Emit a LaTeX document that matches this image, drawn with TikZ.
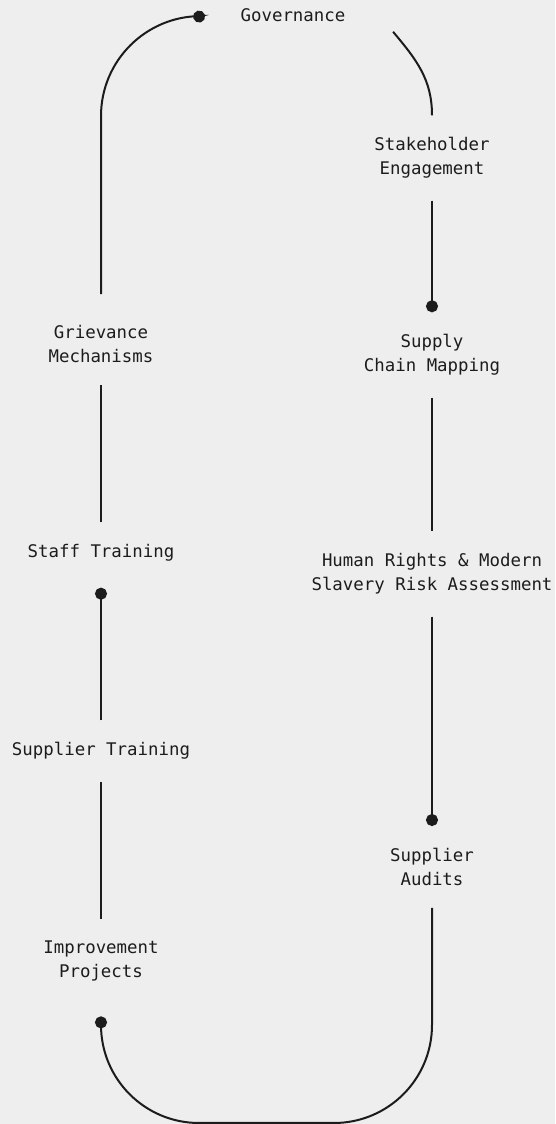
\documentclass[tikz,border=0pt]{standalone}
\usepackage{fontspec}
\setmonofont{DejaVu Sans Mono}
\usetikzlibrary{arrows.meta}
\definecolor{pagegray}{HTML}{EEEEEE}
\definecolor{inkgray}{HTML}{1C1C1C}
\tikzset{
  stage/.style={font=\ttfamily\fontsize{17.4}{24}\selectfont, text=inkgray,
    align=center, inner xsep=4pt, inner ysep=22pt},
  flow/.style={draw=inkgray, line width=2pt},
  dotflow/.style={flow, -{Circle[length=12pt,width=12pt]}}
}
\begin{document}
\begin{tikzpicture}[x=1pt,y=1pt]%
    \fill[pagegray] (0,0) rectangle (555,-1124);
    \useasboundingbox (0,0) rectangle (555,-1124);
    % stages
    \node[stage, inner xsep=35.5pt, inner ysep=10pt] (gov) at (293,-15) {Governance};
    \node[stage] (stake)      at (432,-158) {Stakeholder\\Engagement};
    \node[stage] (supply)     at (432,-355) {Supply\\Chain Mapping};
    \node[stage] (hrights)    at (432,-574) {Human Rights \& Modern\\Slavery Risk Assessment};
    \node[stage] (audits)     at (432,-867) {Supplier\\Audits};
    \node[stage] (improve)    at (101,-961) {Improvement\\Projects};
    \node[stage] (suptrain)   at (101,-751) {Supplier Training};
    \node[stage] (stafftrain) at (101,-553) {Staff Training};
    \node[stage] (griev)      at (101,-344) {Grievance\\Mechanisms};
    % cycle
    \begin{scope}
        \draw[flow] ([xshift=12pt]gov.south east) to[out=-50,in=90] (stake.north);
        \draw[dotflow] (stake.south) -- (supply.north);
        \draw[flow] (supply.south) -- (hrights.north);
        \draw[dotflow] (hrights.south) -- (audits.north);
        \draw[dotflow] (audits.south) -- ++(0,-117)
            arc[start angle=0,end angle=-90,radius=98] -- ++(-135,0)
            arc[start angle=-90,end angle=-180,radius=98]
            -- ([yshift=-13pt]improve.south);
        \draw[flow] (improve.north) -- (suptrain.south);
        \draw[dotflow] (suptrain.north) -- ([yshift=-4pt]stafftrain.south);
        \draw[flow] (stafftrain.north) -- (griev.south);
        \draw[dotflow] ([yshift=9pt]griev.north) -- ++(0,178)
            arc[start angle=180,end angle=90,radius=100] -- (gov.west);
    \end{scope}
\end{tikzpicture}
\end{document}
